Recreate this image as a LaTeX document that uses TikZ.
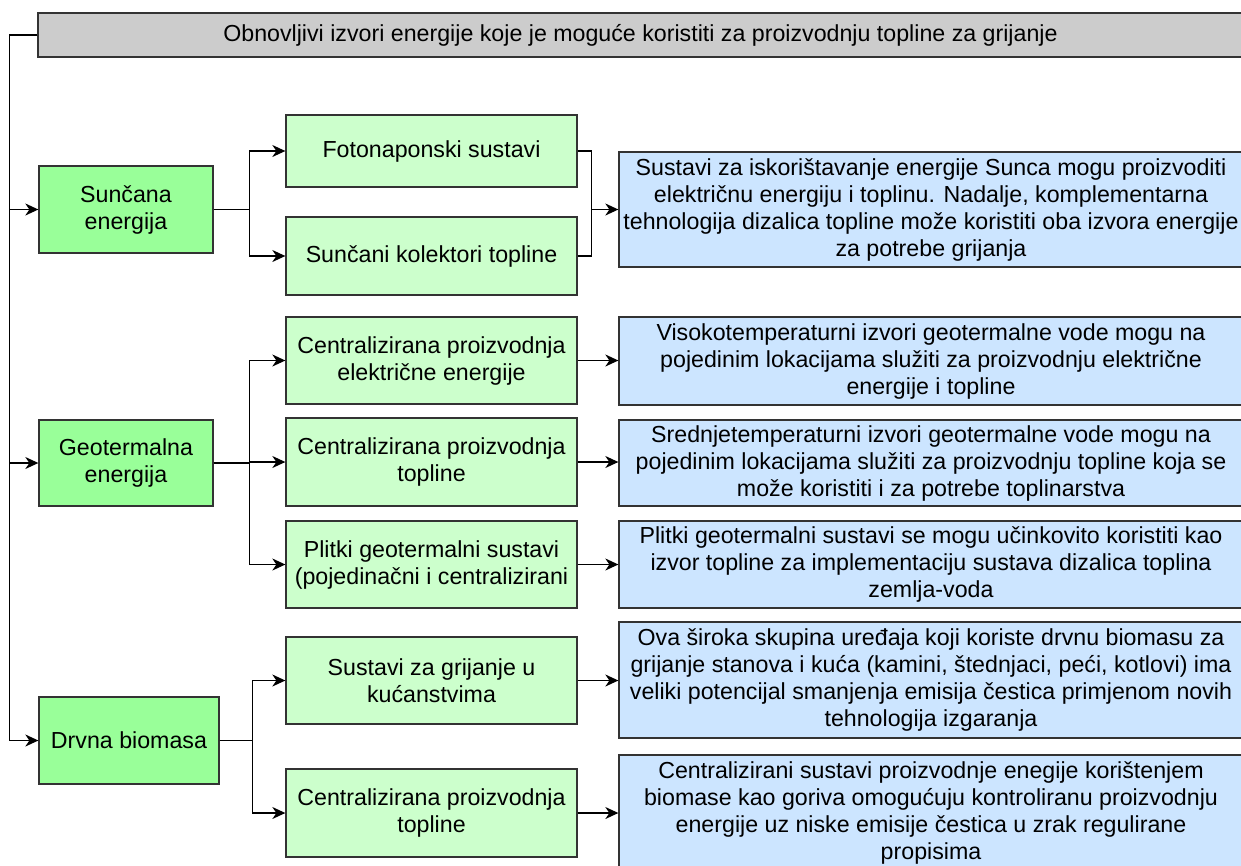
\documentclass[tikz,border=0pt]{standalone}
\usepackage{fontspec}
\setmainfont{Liberation Sans}
\usetikzlibrary{arrows.meta}
\definecolor{titlegray}{HTML}{CCCCCC}
\definecolor{maingreen}{HTML}{99FF99}
\definecolor{lightgreen}{HTML}{CCFFCC}
\definecolor{lightblue}{HTML}{CCE5FF}
\definecolor{edge}{HTML}{333333}
\tikzset{
  box/.style={draw=edge, line width=1.3pt, align=center, inner sep=0pt,
    font=\fontsize{23.2}{27}\selectfont},
  titlebox/.style={box, fill=titlegray},
  mainbox/.style={box, fill=maingreen},
  subbox/.style={box, fill=lightgreen},
  infobox/.style={box, fill=lightblue},
  conn/.style={draw=black, line width=1.3pt},
  arr/.style={conn, -{Stealth[length=13pt,width=12pt,inset=4pt]}},
}
\newcommand{\bx}[7]{\node[#1, minimum width=#5pt, minimum height=#6pt] (#2) at (#3,#4) {#7};}
\begin{document}
\begin{tikzpicture}[x=1pt,y=-1pt]
\useasboundingbox (0,0) rectangle (1241,865);
\clip (0,0) rectangle (1241,865);
% title
\bx{titlebox}{title}{640.5}{35}{1205}{44}{Obnovljivi izvori energije koje je moguće koristiti za proizvodnju topline za grijanje}
% main sources
\bx{mainbox}{sun}{126}{209.5}{174}{87}{Sunčana\\energija}
\bx{mainbox}{geo}{126}{463}{174}{86}{Geotermalna\\energija}
\bx{mainbox}{bio}{129}{740.5}{180}{87}{Drvna biomasa}
% sub boxes
\bx{subbox}{foto}{431.5}{151}{291}{72}{Fotonaponski sustavi}
\bx{subbox}{kol}{431.5}{256}{291}{78}{Sunčani kolektori topline}
\bx{subbox}{cel}{431.5}{360.5}{291}{87}{Centralizirana proizvodnja\\električne energije}
\bx{subbox}{ctop}{431.5}{462}{291}{88}{Centralizirana proizvodnja\\topline}
\bx{subbox}{plit}{431.5}{564.5}{291}{87}{Plitki geotermalni sustavi\\(pojedinačni i centralizirani}
\bx{subbox}{kuc}{431.5}{680.5}{291}{87}{Sustavi za grijanje u\\kućanstvima}
\bx{subbox}{ctopb}{431.5}{813}{291}{88}{Centralizirana proizvodnja\\topline}
% info boxes
\bx{infobox}{b1}{931}{209.5}{624}{115}{Sustavi za iskorištavanje energije Sunca mogu proizvoditi\\električnu energiju i toplinu. Nadalje, komplementarna\\tehnologija dizalica topline može koristiti oba izvora energije\\za potrebe grijanja}
\bx{infobox}{b2}{931}{361}{624}{88}{Visokotemperaturni izvori geotermalne vode mogu na\\pojedinim lokacijama služiti za proizvodnju električne\\energije i topline}
\bx{infobox}{b3}{931}{463}{624}{86}{Srednjetemperaturni izvori geotermalne vode mogu na\\pojedinim lokacijama služiti za proizvodnju topline koja se\\može koristiti i za potrebe toplinarstva}
\bx{infobox}{b4}{931}{564.5}{624}{87}{Plitki geotermalni sustavi se mogu učinkovito koristiti kao\\izvor topline za implementaciju sustava dizalica toplina\\zemlja-voda}
\bx{infobox}{b5}{931}{680}{624}{116}{Ova široka skupina uređaja koji koriste drvnu biomasu za\\grijanje stanova i kuća (kamini, štednjaci, peći, kotlovi) ima\\veliki potencijal smanjenja emisija čestica primjenom novih\\tehnologija izgaranja}
\bx{infobox}{b6}{931}{813}{624}{116}{Centralizirani sustavi proizvodnje enegije korištenjem\\biomase kao goriva omogućuju kontroliranu proizvodnju\\energije uz niske emisije čestica u zrak regulirane\\propisima}
% title to main sources
\draw[arr] (title.west) -- ++(-28,0) |- (sun.west);
\draw[arr] (title.west) -- ++(-28,0) |- (geo.west);
\draw[arr] (title.west) -- ++(-28,0) |- (bio.west);
% sun branches
\draw[arr] (sun.east) -- ++(36,0) |- (foto.west);
\draw[arr] (sun.east) -- ++(36,0) |- (kol.west);
\draw[conn] (foto.east) -- ++(14,0) |- (kol.east);
\coordinate (bk) at (591,209.5);
\draw[arr] (bk) -- (b1.west);
% geo branches
\draw[arr] (geo.east) -- ++(36,0) |- (cel.west);
\draw[arr] (geo.east) -- ++(36,0) |- (ctop.west);
\draw[arr] (geo.east) -- ++(36,0) |- (plit.west);
% bio branches
\draw[arr] (bio.east) -- ++(33,0) |- (kuc.west);
\draw[arr] (bio.east) -- ++(33,0) |- (ctopb.west);
% sub to info
\draw[arr] (cel.east) -- (cel.east -| b2.west);
\draw[arr] (ctop.east) -- (ctop.east -| b3.west);
\draw[arr] (plit.east) -- (plit.east -| b4.west);
\draw[arr] (kuc.east) -- (kuc.east -| b5.west);
\draw[arr] (ctopb.east) -- (ctopb.east -| b6.west);
\end{tikzpicture}
\end{document}
